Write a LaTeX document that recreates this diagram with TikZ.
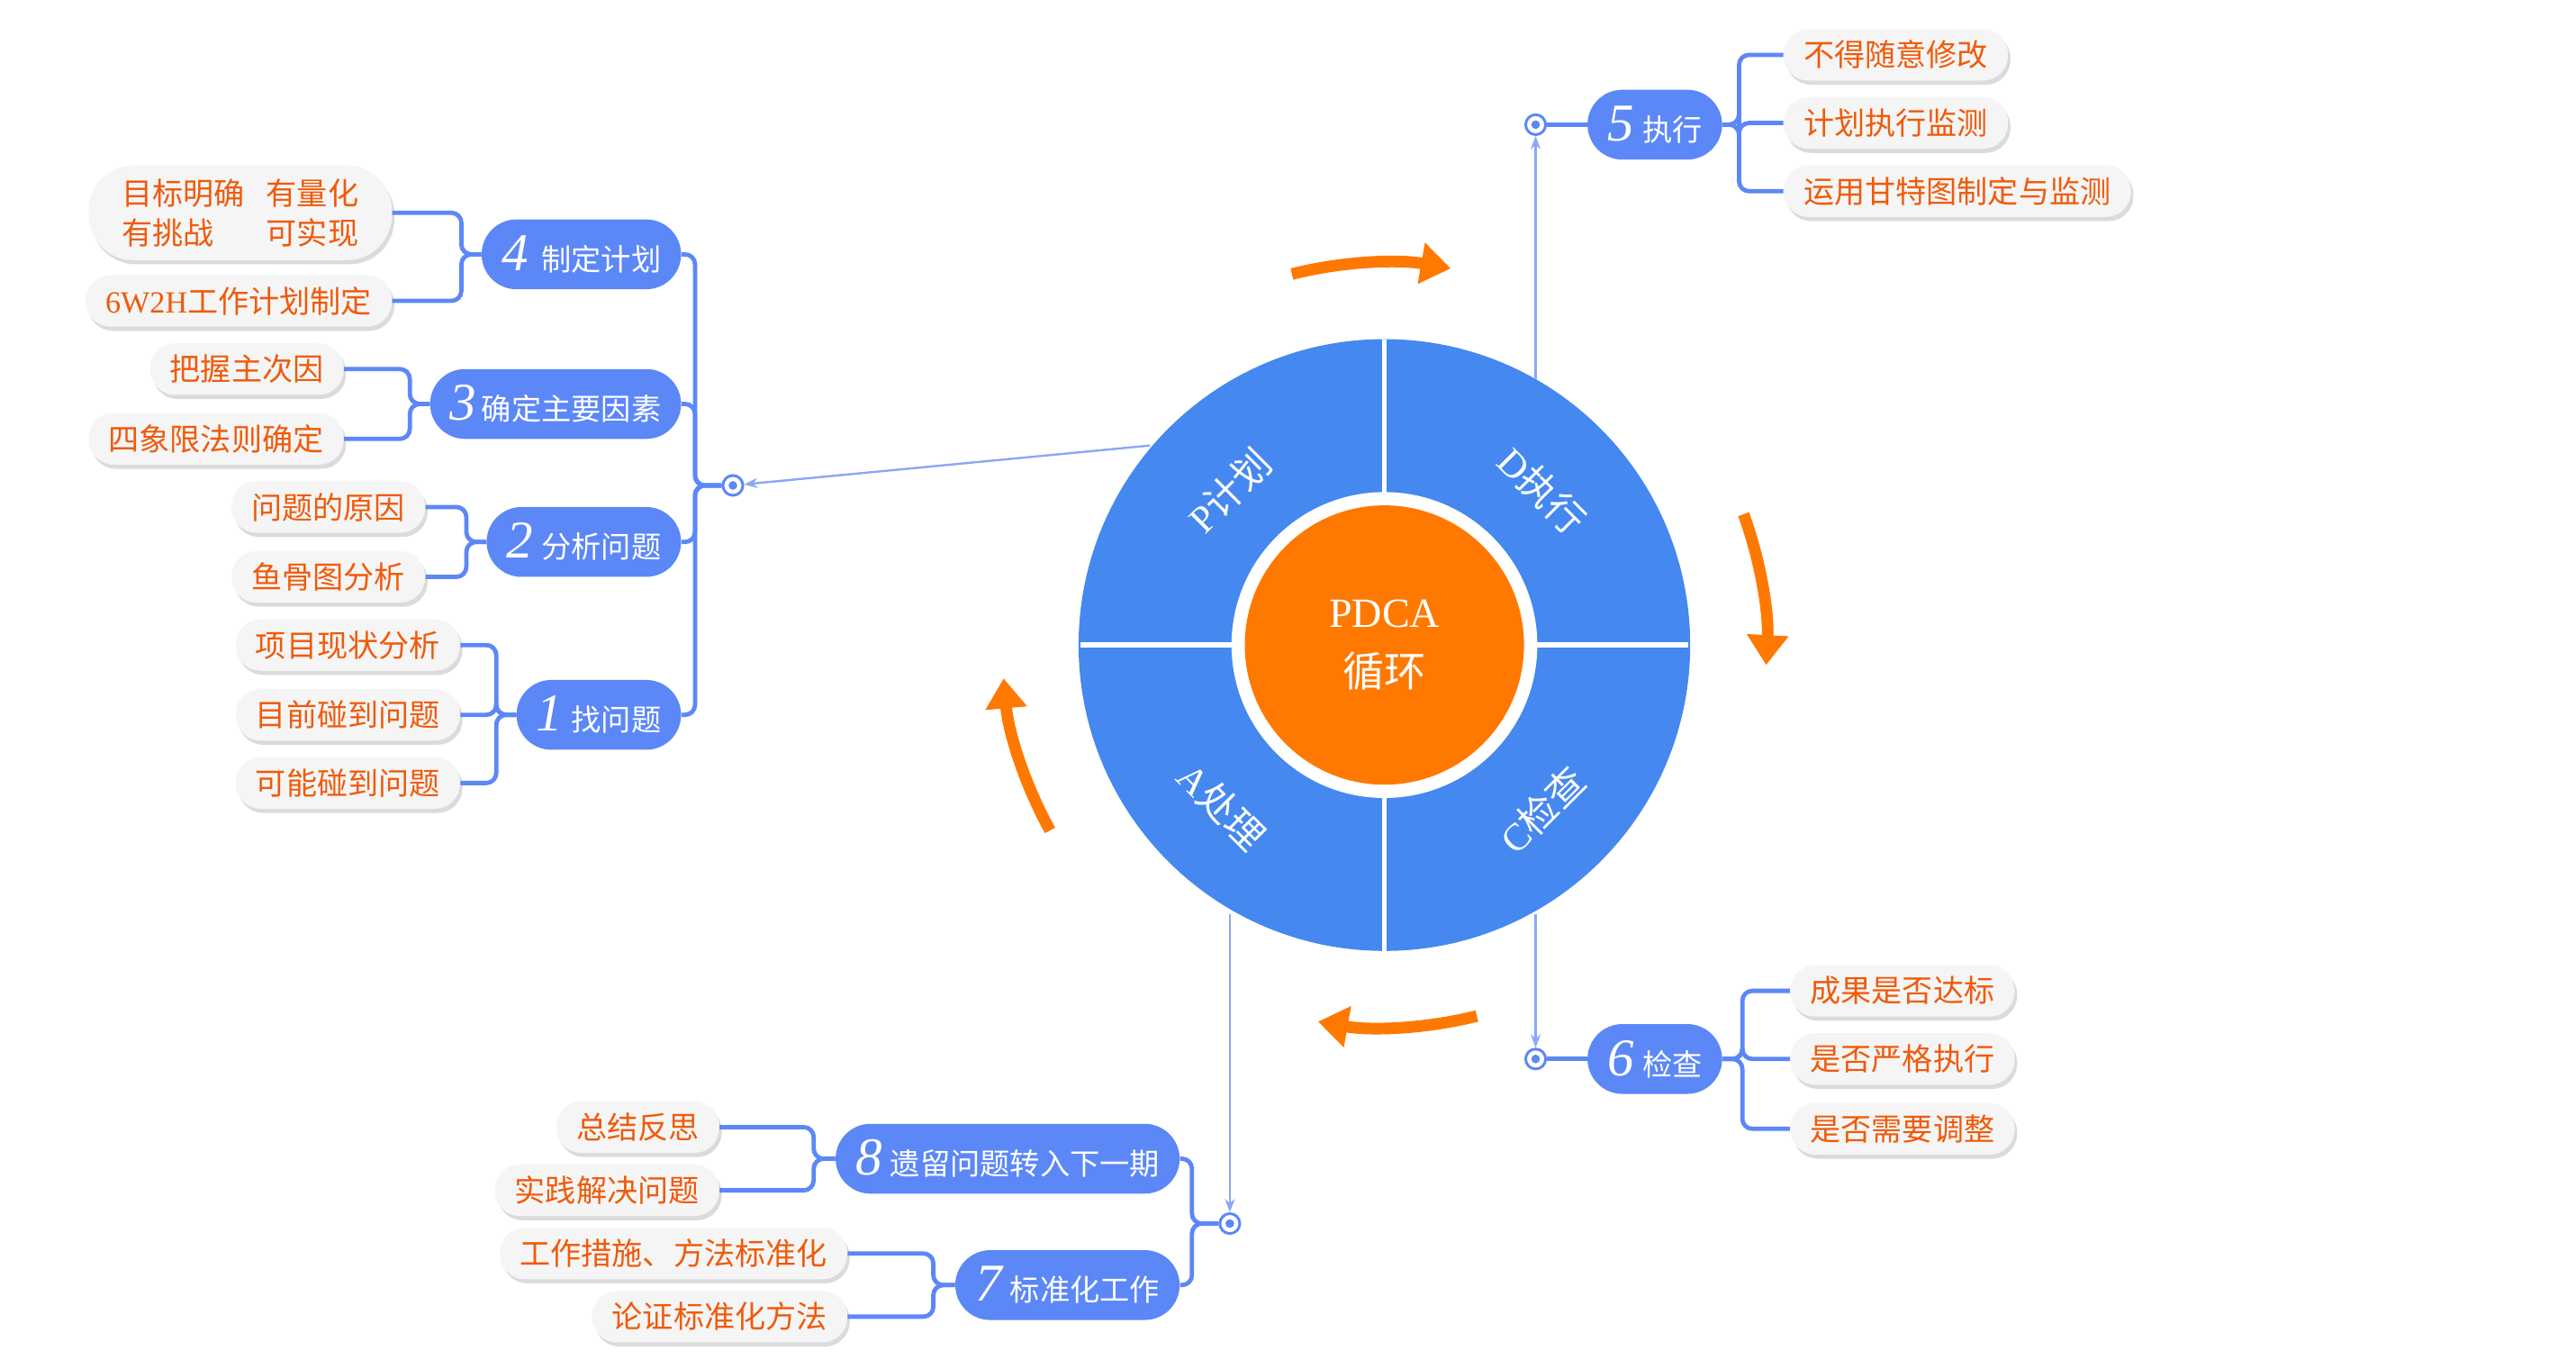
\documentclass[tikz,border=0pt]{standalone}
\usepackage{fontspec}
\setmainfont{Noto Sans CJK SC}
\newfontfamily\serifl{Liberation Serif}
\newcommand\dignum[1]{{\serifl\fontsize{32}{32}\selectfont\itshape #1}}
\usetikzlibrary{arrows.meta,shadows,calc}
\definecolor{mainb}{HTML}{5C87F7}
\definecolor{ringb}{HTML}{4588F0}
\definecolor{orng}{HTML}{FF7800}
\definecolor{leaft}{HTML}{F05A0A}
\definecolor{thin}{HTML}{8AA8F5}
\definecolor{leaff}{HTML}{F5F5F5}
\begin{document}
\begin{tikzpicture}[x=1pt,y=-1pt,
  main/.style={rounded corners=21pt,fill=mainb,text=white,minimum height=42pt,inner xsep=12pt,font=\fontsize{18}{20}\selectfont},
  leaf/.style={rounded corners=15pt,fill=leaff,text=leaft,minimum height=31pt,inner xsep=12pt,font=\fontsize{18.5}{24}\selectfont,
     drop shadow={shadow xshift=1.5pt,shadow yshift=-2.5pt,fill=black!14,opacity=1}},
  br/.style={draw=mainb,line width=2.6pt,rounded corners=6pt},
  tn/.style={draw=thin,line width=1.3pt,-{Stealth[length=8pt,width=6pt]}},
  mk/.style={circle,draw=mainb,line width=1.6pt,fill=white,minimum size=12pt,inner sep=0pt,
     path picture={\fill[mainb] (path picture bounding box.center) circle (2.6pt);}},
  oarr/.style={draw=orng,line width=7pt,-{Triangle[length=18pt,width=24pt]}}
]
\useasboundingbox (0,0) rectangle (1550,818);
% circle
\coordinate (c) at (833,388);
\fill[ringb] (c) circle (184);
\draw[white,line width=3pt] (833,204) -- (833,572) (650,388) -- (1016,388);
\fill[white] (c) circle (92);
\node[circle,fill=orng,minimum size=168pt,inner sep=0pt,text=white,align=center,font=\serifl\fontsize{25}{36}\selectfont] (ctr) at (c) {PDCA\\{\fontspec{Noto Sans CJK SC}循环}};
\node[text=white,rotate=45,font=\fontsize{23}{24}\selectfont] (P) at (740,295) {{\serifl P}计划};
\node[text=white,rotate=-45,font=\fontsize{23}{24}\selectfont] (D) at (928,295) {{\serifl D}执行};
\node[text=white,rotate=45,font=\fontsize{23}{24}\selectfont] (C) at (928,487) {{\serifl C}检查};
\node[text=white,rotate=-45,font=\fontsize{23}{24}\selectfont] (A) at (735,485) {{\serifl A}处理};
% orange arrows
\draw[oarr] ($(c)+(-104:230)$) arc (-104:-80:230);
\draw[oarr] ($(c)+(-20:230)$) arc (-20:3:230);
\draw[oarr] ($(c)+(76:230)$) arc (76:100:230);
\draw[oarr] ($(c)+(151:230)$) arc (151:175:230);
% markers
\node[mk] (mP) at (441,292) {};
\node[mk] (mD) at (924,75) {};
\node[mk] (mC) at (924,637) {};
\node[mk] (mA) at (740,736) {};
\coordinate (sP) at (692,268);
\coordinate (sD) at (924,228);
\coordinate (sC) at (924,550);
\coordinate (sA) at (740,550);
\draw[tn] (sP) -- (mP);
\draw[tn] (sD) -- (mD);
\draw[tn] (sC) -- (mC);
\draw[tn] (sA) -- (mA);
% left main nodes
\node[main,anchor=east] (m4) at (410,153) {\dignum{4}\hspace{8pt}制定计划};
\node[main,anchor=east] (m3) at (410,243) {\dignum{3}\hspace{3pt}确定主要因素};
\node[main,anchor=east] (m2) at (410,326) {\dignum{2}\hspace{5pt}分析问题};
\node[main,anchor=east] (m1) at (410,430) {\dignum{1}\hspace{5pt}找问题};
\foreach \m in {m4,m3,m2,m1} \draw[br] (\m.east) -| ($(mP.west)+(-16,0)$) -- (mP.west);
% leaves
\node[leaf,anchor=east,minimum height=57pt,rounded corners=27pt,align=left,inner xsep=20pt] (l4a) at (236,128) {目标明确\hspace{0.7em}有量化\\有挑战\hspace{1.7em}可实现};
\node[leaf,anchor=east] (l4b) at (236,181) {{\serifl 6W2H}工作计划制定};
\node[leaf,anchor=east] (l3a) at (207,222) {把握主次因};
\node[leaf,anchor=east] (l3b) at (207,264) {四象限法则确定};
\node[leaf,anchor=east] (l2a) at (256,305) {问题的原因};
\node[leaf,anchor=east] (l2b) at (256,347) {鱼骨图分析};
\node[leaf,anchor=east] (l1a) at (277,388) {项目现状分析};
\node[leaf,anchor=east] (l1b) at (277,430) {目前碰到问题};
\node[leaf,anchor=east] (l1c) at (277,471) {可能碰到问题};
\foreach \l/\m in {l4a/m4,l4b/m4,l3a/m3,l3b/m3,l2a/m2,l2b/m2,l1a/m1,l1b/m1,l1c/m1}
  \draw[br] (\l.east) -| ($(\m.west)+(-12,0)$) -- (\m.west);
% right
\node[main,anchor=west] (m5) at (955,75) {\dignum{5}\hspace{5pt}执行};
\node[main,anchor=west] (m6) at (955,637) {\dignum{6}\hspace{5pt}检查};
\draw[br] (mD.east) -- (m5.west);
\draw[br] (mC.east) -- (m6.west);
\node[leaf,anchor=west] (r5a) at (1073,33) {不得随意修改};
\node[leaf,anchor=west] (r5b) at (1073,74) {计划执行监测};
\node[leaf,anchor=west] (r5c) at (1073,115) {运用甘特图制定与监测};
\node[leaf,anchor=west] (r6a) at (1077,596) {成果是否达标};
\node[leaf,anchor=west] (r6b) at (1077,637) {是否严格执行};
\node[leaf,anchor=west] (r6c) at (1077,679) {是否需要调整};
\foreach \l in {r5a,r5b,r5c} \draw[br] (m5.east) -- ++(10,0) |- (\l.west);
\foreach \l in {r6a,r6b,r6c} \draw[br] (m6.east) -- ++(12,0) |- (\l.west);
% bottom
\node[main,anchor=east] (m8) at (710,697) {\dignum{8}\hspace{5pt}遗留问题转入下一期};
\node[main,anchor=east] (m7) at (710,773) {\dignum{7}\hspace{5pt}标准化工作};
\foreach \m in {m8,m7} \draw[br] (\m.east) -| ($(mA.west)+(-16,0)$) -- (mA.west);
\node[leaf,anchor=east] (b8a) at (433,678) {总结反思};
\node[leaf,anchor=east] (b8b) at (433,716) {实践解决问题};
\node[leaf,anchor=east] (b7a) at (510,754) {工作措施、方法标准化};
\node[leaf,anchor=east] (b7b) at (510,792) {论证标准化方法};
\foreach \l/\m in {b8a/m8,b8b/m8,b7a/m7,b7b/m7}
  \draw[br] (\l.east) -| ($(\m.west)+(-13,0)$) -- (\m.west);
\end{tikzpicture}
\end{document}
